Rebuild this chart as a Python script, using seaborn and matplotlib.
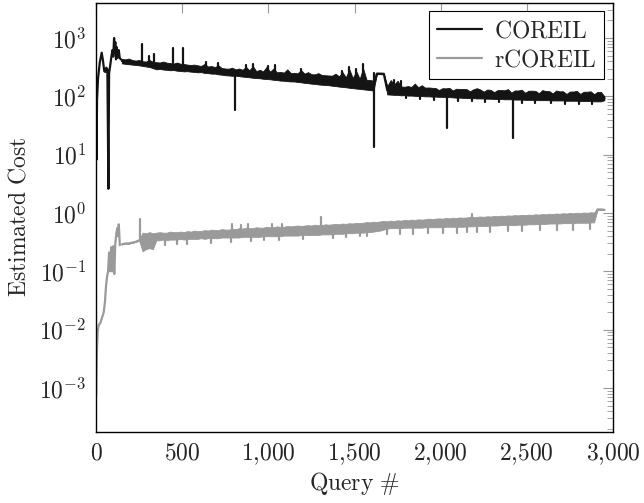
import numpy as np
import pandas as pd
import matplotlib
matplotlib.use("Agg")
import matplotlib.pyplot as plt
import matplotlib.ticker as mticker
import seaborn as sns

# ─────────────────────────────────────────
# DATA
# ─────────────────────────────────────────
# first ~150 queries, traced point by point
coreil_early_query = [1, 3, 6, 12, 22, 33, 40, 48, 54, 60, 66, 72, 76, 82, 88,
                      95, 100, 105, 108, 112, 116, 120, 126, 132, 138, 145]
coreil_early_cost = [66, 8.2, 87, 206, 380, 560, 420, 270, 262, 310, 290, 2.6, 250, 330, 450,
                     620, 480, 1000, 560, 850, 430, 700, 460, 620, 450, 430]

rcoreil_early_query = [1, 3, 6, 10, 16, 25, 35, 45, 52, 58, 64, 70, 76, 82, 88,
                       94, 100, 106, 112, 118, 124, 128, 132, 135, 138]
rcoreil_early_cost = [7.5e-4, 2.0e-3, 5.0e-3, 0.0095, 0.012, 0.013, 0.016, 0.02, 0.03, 0.055,
                      0.08, 0.10, 0.21, 0.10, 0.26, 0.10, 0.27, 0.09, 0.30, 0.45,
                      0.55, 0.40, 0.64, 0.45, 0.28]

# queries 150..2950: the noise is too dense to trace, so keep its upper and lower edge
band_query = [
    150, 170, 190, 210, 230, 250, 270, 290, 310, 330,
    350, 370, 390, 410, 430, 450, 470, 490, 510, 530,
    550, 570, 590, 610, 630, 650, 670, 690, 710, 730,
    750, 770, 790, 810, 830, 850, 870, 890, 910, 930,
    950, 970, 990, 1010, 1030, 1050, 1070, 1090, 1110, 1130,
    1150, 1170, 1190, 1210, 1230, 1250, 1270, 1290, 1310, 1330,
    1350, 1370, 1390, 1410, 1430, 1450, 1470, 1490, 1510, 1530,
    1550, 1570, 1590, 1610, 1630, 1650, 1670, 1690, 1710, 1730,
    1750, 1770, 1790, 1810, 1830, 1850, 1870, 1890, 1910, 1930,
    1950, 1970, 1990, 2010, 2030, 2050, 2070, 2090, 2110, 2130,
    2150, 2170, 2190, 2210, 2230, 2250, 2270, 2290, 2310, 2330,
    2350, 2370, 2390, 2410, 2430, 2450, 2470, 2490, 2510, 2530,
    2550, 2570, 2590, 2610, 2630, 2650, 2670, 2690, 2710, 2730,
    2750, 2770, 2790, 2810, 2830, 2850, 2870, 2890, 2910, 2930,
    2950,
]

coreil_band_high = [
    440, 430, 445, 420, 410, 420, 400, 395, 420, 390,
    385, 380, 395, 378, 372, 365, 380, 362, 358, 350,
    345, 350, 340, 332, 360, 325, 330, 318, 340, 305,
    300, 298, 310, 290, 300, 285, 320, 280, 330, 270,
    285, 268, 320, 265, 300, 258, 262, 255, 290, 250,
    252, 248, 280, 245, 260, 240, 238, 250, 232, 230,
    228, 226, 245, 220, 260, 212, 290, 205, 270, 200,
    300, 192, 190, 186, 250, 250, 248, 150, 190, 160,
    185, 148, 146, 150, 145, 165, 143, 155, 141, 142,
    140, 139, 128, 138, 137, 140, 126, 135, 134, 134,
    133, 122, 132, 138, 131, 120, 131, 129, 118, 128,
    128, 127, 133, 116, 126, 126, 130, 115, 125, 125,
    124, 113, 128, 123, 123, 112, 126, 122, 122, 110,
    121, 121, 124, 110, 120, 120, 122, 109, 119, 119,
    100,
]
coreil_band_low = [
    368, 360, 355, 350, 345, 340, 332, 325, 318, 305,
    290, 295, 288, 285, 280, 282, 275, 272, 268, 270,
    265, 262, 258, 260, 252, 250, 245, 245, 238, 235,
    230, 228, 225, 226, 222, 218, 215, 212, 208, 206,
    204, 200, 198, 196, 192, 190, 186, 185, 182, 180,
    180, 176, 174, 170, 168, 165, 163, 160, 158, 157,
    155, 152, 150, 147, 145, 143, 140, 138, 136, 134,
    132, 130, 128, 125, 240, 240, 238, 108, 107, 106,
    106, 104, 105, 103, 103, 102, 101, 101, 100, 100,
    99, 99, 98, 98, 97, 97, 96, 95, 95, 94,
    94, 93, 93, 92, 92, 92, 91, 91, 90, 90,
    90, 89, 89, 89, 88, 88, 88, 87, 87, 87,
    87, 86, 86, 86, 86, 85, 85, 85, 85, 84,
    84, 84, 84, 83, 83, 83, 83, 82, 82, 82,
    86,
]

rcoreil_band_high = [
    0.29, 0.30, 0.30, 0.31, 0.32, 0.34, 0.46, 0.45, 0.47, 0.45,
    0.46, 0.47, 0.46, 0.46, 0.48, 0.47, 0.47, 0.48, 0.47, 0.49,
    0.48, 0.50, 0.49, 0.49, 0.51, 0.50, 0.52, 0.51, 0.51, 0.53,
    0.52, 0.52, 0.54, 0.53, 0.55, 0.54, 0.56, 0.55, 0.55, 0.57,
    0.56, 0.56, 0.58, 0.57, 0.57, 0.59, 0.58, 0.58, 0.60, 0.59,
    0.60, 0.61, 0.60, 0.61, 0.62, 0.61, 0.63, 0.62, 0.62, 0.64,
    0.63, 0.64, 0.65, 0.64, 0.66, 0.65, 0.67, 0.66, 0.68, 0.67,
    0.68, 0.70, 0.69, 0.71, 0.70, 0.72, 0.73, 0.72, 0.74, 0.73,
    0.75, 0.74, 0.76, 0.75, 0.77, 0.76, 0.78, 0.77, 0.78, 0.80,
    0.79, 0.80, 0.81, 0.80, 0.82, 0.81, 0.83, 0.82, 0.84, 0.83,
    0.84, 0.86, 0.85, 0.86, 0.87, 0.86, 0.88, 0.87, 0.89, 0.88,
    0.90, 0.89, 0.91, 0.90, 0.92, 0.91, 0.93, 0.92, 0.94, 0.93,
    0.95, 0.94, 0.96, 0.95, 0.97, 0.96, 0.98, 0.97, 0.99, 0.98,
    1.00, 0.99, 1.01, 1.00, 1.02, 1.01, 1.03, 1.02, 1.17, 1.17,
    1.15,
]
rcoreil_band_low = [
    0.29, 0.30, 0.30, 0.31, 0.32, 0.34, 0.22, 0.24, 0.25, 0.24,
    0.34, 0.34, 0.35, 0.34, 0.35, 0.35, 0.35, 0.36, 0.35, 0.36,
    0.36, 0.36, 0.36, 0.37, 0.36, 0.37, 0.37, 0.37, 0.37, 0.38,
    0.38, 0.38, 0.38, 0.38, 0.38, 0.39, 0.39, 0.39, 0.39, 0.39,
    0.39, 0.40, 0.40, 0.40, 0.40, 0.40, 0.40, 0.41, 0.41, 0.41,
    0.41, 0.41, 0.42, 0.42, 0.42, 0.42, 0.42, 0.42, 0.43, 0.43,
    0.43, 0.43, 0.44, 0.44, 0.44, 0.45, 0.45, 0.45, 0.46, 0.46,
    0.46, 0.47, 0.47, 0.48, 0.49, 0.50, 0.52, 0.54, 0.55, 0.55,
    0.55, 0.55, 0.56, 0.56, 0.56, 0.56, 0.56, 0.56, 0.57, 0.57,
    0.57, 0.57, 0.57, 0.57, 0.58, 0.58, 0.58, 0.58, 0.58, 0.58,
    0.59, 0.59, 0.59, 0.60, 0.60, 0.60, 0.60, 0.61, 0.61, 0.61,
    0.62, 0.62, 0.62, 0.62, 0.62, 0.63, 0.63, 0.63, 0.64, 0.64,
    0.64, 0.65, 0.65, 0.65, 0.66, 0.66, 0.66, 0.66, 0.67, 0.67,
    0.67, 0.67, 0.68, 0.68, 0.68, 0.68, 0.69, 0.69, 1.13, 1.13,
    1.12,
]

# isolated spikes and notches sticking out of the band: query, band edge, tip
coreil_spike_query = [265, 308, 337, 447, 505, 640, 710, 805, 870, 910, 1000, 1040,
                      1190, 1430, 1470, 1510, 1550, 1614, 1730, 1770, 1800, 1880,
                      1960, 2036, 2100, 2180, 2260, 2340, 2420, 2470, 2550, 2640,
                      2720, 2800, 2880]
coreil_spike_base = [400, 400, 390, 370, 360, 330, 320, 230, 280, 270, 260, 260,
                     250, 220, 210, 200, 195, 250, 150, 148, 104, 101,
                     99, 98, 95, 93, 91, 89, 88, 88, 87, 86,
                     85, 84, 83]
coreil_spike_tip = [790, 500, 535, 675, 675, 390, 380, 59, 340, 360, 330, 340,
                    290, 270, 320, 300, 360, 13.7, 190, 185, 92, 89,
                    87, 29, 84, 82, 80, 79, 19.5, 77, 77, 76,
                    75, 74, 74]

rcoreil_spike_query = [255, 790, 840, 880, 1020, 1080, 1307, 2180,
                       400, 468, 526, 665, 781, 897, 974, 1060, 1203, 1377,
                       1450, 1532, 1570, 1687, 1764, 1842, 1929, 2016, 2093, 2151,
                       2209, 2287, 2393, 2470, 2577, 2674, 2770, 2867]
rcoreil_spike_base = [0.33, 0.53, 0.54, 0.55, 0.57, 0.58, 0.62, 0.85,
                      0.35, 0.35, 0.36, 0.37, 0.38, 0.39, 0.40, 0.40, 0.42, 0.43,
                      0.45, 0.46, 0.47, 0.54, 0.55, 0.56, 0.57, 0.57, 0.58, 0.59,
                      0.59, 0.60, 0.62, 0.63, 0.65, 0.66, 0.67, 0.68]
rcoreil_spike_tip = [0.78, 0.64, 0.62, 0.64, 0.66, 0.65, 0.84, 0.95,
                     0.28, 0.29, 0.29, 0.31, 0.32, 0.33, 0.34, 0.35, 0.36, 0.38,
                     0.39, 0.40, 0.41, 0.43, 0.44, 0.44, 0.45, 0.46, 0.46, 0.47,
                     0.47, 0.48, 0.49, 0.50, 0.51, 0.52, 0.52, 0.53]

series_labels = [r"$\mathrm{COREIL}$", r"$\mathrm{rCOREIL}$"]
series_colors = ["#141414", "#9a9a9a"]

x_ticks = [0, 500, 1000, 1500, 2000, 2500, 3000]

# ─────────────────────────────────────────
# BUILD FRAMES
# ─────────────────────────────────────────
def band_frame(high, low):
    # two rows per query -> seaborn's min/max interval shades the band
    return pd.DataFrame({"query": band_query + band_query, "cost": high + low})


def spike_frame(q, base, tip):
    return pd.DataFrame({"query": q + q, "cost": base + tip,
                         "spike": list(range(len(q))) * 2})


series = [
    dict(early=pd.DataFrame({"query": coreil_early_query, "cost": coreil_early_cost}),
         band=band_frame(coreil_band_high, coreil_band_low),
         spikes=spike_frame(coreil_spike_query, coreil_spike_base, coreil_spike_tip)),
    dict(early=pd.DataFrame({"query": rcoreil_early_query, "cost": rcoreil_early_cost}),
         band=band_frame(rcoreil_band_high, rcoreil_band_low),
         spikes=spike_frame(rcoreil_spike_query, rcoreil_spike_base, rcoreil_spike_tip)),
]

# ─────────────────────────────────────────
# PLOT
# ─────────────────────────────────────────
sns.set_style("white")
plt.rcParams["mathtext.fontset"] = "cm"
plt.rcParams["font.family"] = ["DejaVu Serif"]

fig = plt.figure(figsize=(6.44, 5.03), dpi=100)
ax = fig.add_axes([96 / 644, 1 - 432 / 503, 517 / 644, 429.3 / 503])

lw = 1.6
for s, lab, col in zip(series, series_labels, series_colors):
    sns.lineplot(data=s["early"], x="query", y="cost", ax=ax, color=col, label=lab,
                 linewidth=lw, estimator=None, sort=False)
    sns.lineplot(data=s["band"], x="query", y="cost", ax=ax, color=col, linewidth=lw,
                 estimator="median", errorbar=("pi", 100),
                 err_kws={"alpha": 1, "linewidth": 0.6, "edgecolor": col}, legend=False)
    sns.lineplot(data=s["spikes"], x="query", y="cost", units="spike", ax=ax, color=col,
                 linewidth=lw, estimator=None, legend=False)

ax.set_yscale("log")
ax.set_xlim(0, 3000)
ax.set_ylim(1.76e-4, 4.03e3)

ax.set_xticks(x_ticks)
ax.xaxis.set_major_formatter(mticker.FuncFormatter(
    lambda v, p: r"$%s$" % f"{int(v):,}".replace(",", "{,}")))
ax.yaxis.set_major_locator(mticker.LogLocator(base=10, numticks=20))
ax.yaxis.set_minor_locator(mticker.LogLocator(base=10, subs=np.arange(2, 10), numticks=20))
ax.yaxis.set_major_formatter(mticker.FuncFormatter(
    lambda v, p: r"$10^{%d}$" % int(round(np.log10(v)))))
ax.yaxis.set_minor_formatter(mticker.NullFormatter())

ax.tick_params(axis="both", which="major", direction="in", length=7, width=0.8,
               color="#999999", labelsize=17, top=True, right=True, pad=7)
ax.tick_params(axis="y", which="minor", direction="in", length=4.5, width=0.6,
               color="#999999", right=True)
for sp in ax.spines.values():
    sp.set_color("black")
    sp.set_linewidth(1.0)

ax.set_xlabel(r"$\mathrm{Query\ \#}$", fontsize=17, labelpad=2)
ax.set_ylabel(r"$\mathrm{Estimated\ Cost}$", fontsize=17, labelpad=6)

leg = ax.legend(loc="upper right", bbox_to_anchor=(0.983, 0.981), fontsize=17,
                frameon=True, fancybox=False, edgecolor="black", framealpha=1,
                handlelength=1.9, handletextpad=0.5, borderpad=0.35,
                labelspacing=0.25, borderaxespad=0)
leg.get_frame().set_linewidth(0.8)
for line in leg.get_lines():
    line.set_linewidth(lw)

fig.savefig("out.png", dpi=100)
